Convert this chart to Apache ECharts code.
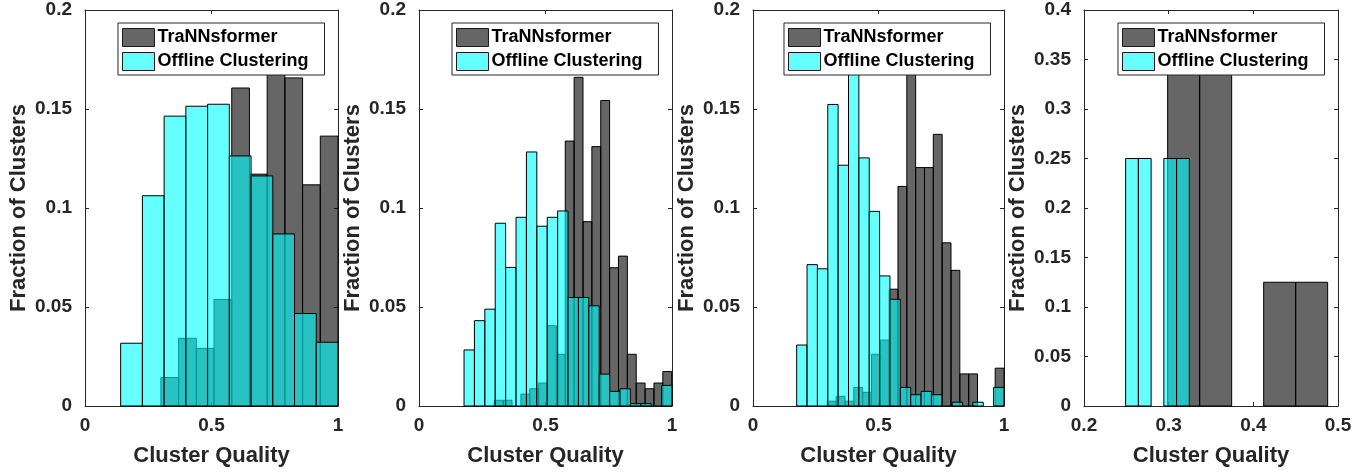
<!DOCTYPE html>
<html>
<head>
<meta charset="utf-8">
<script src="https://cdn.jsdelivr.net/npm/echarts@6/dist/echarts.min.js"></script>
<style>
html,body{margin:0;padding:0;background:#fff;}
#chart{width:1369px;height:472px;}
</style>
</head>
<body>
<div id="chart"></div>
<script>
// ---- Data ----
const seriesNames = ['TraNNsformer', 'Offline Clustering'];
const xAxisName = 'Cluster Quality';
const yAxisName = 'Fraction of Clusters';

// Panel 1
const p1DarkStart = 0.300, p1DarkWidth = 0.070;
const p1Dark = [0.0144, 0.0342, 0.0291, 0.0538, 0.1606, 0.1171, 0.177, 0.1657, 0.1117, 0.1363];
const p1CyanStart = 0.141, p1CyanWidth = 0.0859;
const p1Cyan = [0.0317, 0.1062, 0.1464, 0.1514, 0.1524, 0.1263, 0.1162, 0.0869, 0.0467, 0.0322];

// Panel 2
const p2DarkStart = 0.2976, p2DarkWidth = 0.03506;
const p2Dark = [0.0029, 0.0029, 0, 0.006, 0.0087, 0.0116, 0.0405, 0.0261, 0.1338, 0.166,
                0.0931, 0.131, 0.1543, 0.0698, 0.0757, 0.0261, 0.0116, 0.0087, 0.0116, 0.0174];
const p2CyanStart = 0.178, p2CyanWidth = 0.0411;
const p2Cyan = [0.0283, 0.0431, 0.0489, 0.0923, 0.0700, 0.0953, 0.1283, 0.0908, 0.0953, 0.0985,
                0.0548, 0.0548, 0.0506, 0.0161, 0.0074, 0.0087, 0.0012, 0.0012, 0, 0.0104];

// Panel 3
const p3DarkStart = 0.296, p3DarkWidth = 0.0352;
const p3Dark = [0.0024, 0.0049, 0.0024, 0.0094, 0.0069, 0.0261, 0.0333, 0.0590, 0.1109, 0.172,
                0.1204, 0.1204, 0.1372, 0.0824, 0.0685, 0.0162, 0.0162, 0, 0, 0.0191];
const p3CyanStart = 0.174, p3CyanWidth = 0.0413;
const p3Cyan = [0.0308, 0.0714, 0.0693, 0.1523, 0.1216, 0.1678, 0.1253, 0.0983, 0.0657, 0.0539,
                0.0094, 0.0057, 0.0074, 0.0057, 0, 0.0019, 0, 0.0019, 0, 0.0094];

// Panel 4
const p4DarkStart = 0.2988, p4DarkWidth = 0.0378;
const p4Dark = [0.375, 0.375, 0, 0.125, 0.125];
const p4CyanStart = 0.2492, p4CyanWidth = 0.01504;
const p4Cyan = [0.25, 0.25, 0, 0.25, 0.25];

// Axis ranges / ticks
const xRanges = [[0, 1, 0.5], [0, 1, 0.5], [0, 1, 0.5], [0.2, 0.5, 0.1]];
const yRanges = [[0, 0.2, 0.05], [0, 0.2, 0.05], [0, 0.2, 0.05], [0, 0.4, 0.05]];

// ---- Build ----
function bins(start, width, vals) {
  return vals.map((v, i) => [start + i * width, start + (i + 1) * width, v]);
}
const panels = [
  {dark: bins(p1DarkStart, p1DarkWidth, p1Dark), cyan: bins(p1CyanStart, p1CyanWidth, p1Cyan)},
  {dark: bins(p2DarkStart, p2DarkWidth, p2Dark), cyan: bins(p2CyanStart, p2CyanWidth, p2Cyan)},
  {dark: bins(p3DarkStart, p3DarkWidth, p3Dark), cyan: bins(p3CyanStart, p3CyanWidth, p3Cyan)},
  {dark: bins(p4DarkStart, p4DarkWidth, p4Dark), cyan: bins(p4CyanStart, p4CyanWidth, p4Cyan)}
];

const gridBoxes = [
  {left: 85, width: 253},
  {left: 419, width: 253},
  {left: 753, width: 251},
  {left: 1084, width: 254}
];
const TOP = 10, HEIGHT = 398;
const FONT = 'Liberation Sans, Arial, Helvetica, sans-serif';
const AXC = '#262626';
const DARK_FILL = 'rgba(0,0,0,0.6)';
const CYAN_FILL = 'rgba(0,255,255,0.6)';

function makeRender(fill) {
  return function (params, api) {
    const h = api.value(2);
    if (!(h > 0)) return null;
    const p0 = api.coord([api.value(0), h]);
    const p1 = api.coord([api.value(1), 0]);
    return {
      type: 'rect',
      shape: {x: p0[0], y: p0[1], width: p1[0] - p0[0], height: p1[1] - p0[1]},
      style: {fill: fill, stroke: '#000', lineWidth: 1}
    };
  };
}

const fmt = v => String(+(+v).toFixed(3));

const grid = [], xAxis = [], yAxis = [], series = [], legend = [];
gridBoxes.forEach((g, i) => {
  grid.push({left: g.left, width: g.width, top: TOP, height: HEIGHT, containLabel: false});
  const [xmin, xmax, xint] = xRanges[i];
  const [ymin, ymax, yint] = yRanges[i];
  const common = {
    axisLine: {show: true, onZero: false, lineStyle: {color: AXC, width: 1}},
    axisTick: {show: true, inside: true, length: 4, lineStyle: {color: AXC}},
    splitLine: {show: false}
  };
  xAxis.push(Object.assign({
    type: 'value', gridIndex: i, min: xmin, max: xmax, interval: xint, position: 'bottom',
    name: xAxisName, nameLocation: 'middle', nameGap: 39,
    nameTextStyle: {fontFamily: FONT, fontWeight: 'bold', fontSize: 22, color: AXC},
    axisLabel: {show: true, margin: 10, fontFamily: FONT, fontWeight: 'bold', fontSize: 19, color: AXC, formatter: fmt}
  }, common));
  xAxis.push(Object.assign({
    type: 'value', gridIndex: i, min: xmin, max: xmax, interval: xint, position: 'top',
    axisLabel: {show: false}
  }, common));
  yAxis.push(Object.assign({
    type: 'value', gridIndex: i, min: ymin, max: ymax, interval: yint, position: 'left',
    name: yAxisName, nameLocation: 'middle', nameGap: 55,
    nameTextStyle: {fontFamily: FONT, fontWeight: 'bold', fontSize: 22, color: AXC},
    axisLabel: {show: true, margin: 13, fontFamily: FONT, fontWeight: 'bold', fontSize: 19, color: AXC, formatter: fmt}
  }, common));
  yAxis.push(Object.assign({
    type: 'value', gridIndex: i, min: ymin, max: ymax, interval: yint, position: 'right',
    axisLabel: {show: false}
  }, common));

  series.push({
    name: seriesNames[0], type: 'custom', xAxisIndex: 2 * i, yAxisIndex: 2 * i,
    renderItem: makeRender(DARK_FILL), data: panels[i].dark,
    encode: {x: [0, 1], y: 2}, itemStyle: {color: '#666666'}, z: 2, silent: true
  });
  series.push({
    name: seriesNames[1], type: 'custom', xAxisIndex: 2 * i, yAxisIndex: 2 * i,
    renderItem: makeRender(CYAN_FILL), data: panels[i].cyan,
    encode: {x: [0, 1], y: 2}, itemStyle: {color: '#66FFFF'}, z: 3, silent: true
  });

  legend.push({
    orient: 'vertical',
    right: 1369 - (g.left + g.width - 13.5),
    top: 23,
    padding: [5, 16, 4, 4],
    itemGap: 5,
    itemWidth: 32,
    itemHeight: 18,
    icon: 'rect',
    backgroundColor: '#fff',
    borderColor: AXC,
    borderWidth: 1,
    selectedMode: false,
    z: 10,
    textStyle: {fontFamily: FONT, fontWeight: 'bold', fontSize: 18, color: '#000', padding: [2, 0, 0, -2]},
    data: [
      {name: seriesNames[0], itemStyle: {color: '#666666', borderColor: '#1a1a1a', borderWidth: 1}},
      {name: seriesNames[1], itemStyle: {color: '#66FFFF', borderColor: '#1a1a1a', borderWidth: 1}}
    ]
  });
});

const chart = echarts.init(document.getElementById('chart'), null, {renderer: 'canvas'});
chart.setOption({
  backgroundColor: '#fff',
  animation: false,
  grid, xAxis, yAxis, series, legend
});
</script>
</body>
</html>
